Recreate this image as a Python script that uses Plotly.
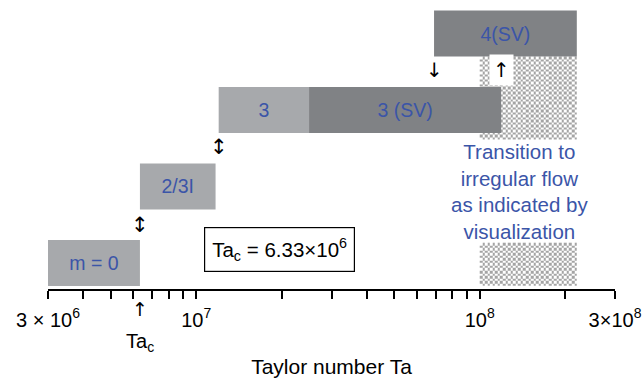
import numpy as np
import plotly.graph_objects as go

# ---- data ----
regime_labels = ["m = 0", "2/3I", "3", "3 (SV)", "4(SV)"]
regime_levels = [0, 1, 2, 2, 3]
regime_start = [3.0e6, 6.33e6, 1.2e7, 2.5e7, 6.9e7]
regime_end = [6.33e6, 1.17e7, 2.5e7, 1.19e8, 2.2e8]
regime_kind = ["light", "light", "light", "dark", "dark"]

ta_critical = 6.33e6
irregular_start = 1.0e8
irregular_end = 2.2e8

tick_values = [3e6, 1e7, 1e8, 3e8]
tick_labels = ["3 × 10<sup>6</sup>", "10<sup>7</sup>", "10<sup>8</sup>", "3×10<sup>8</sup>"]
minor_values = [4e6, 5e6, 6e6, 7e6, 8e6, 9e6,
                2e7, 3e7, 4e7, 5e7, 6e7, 7e7, 8e7, 9e7, 2e8]

# ---- styles ----
LIGHT = "#a7a9ac"
DARK = "#808285"
BLUE = "#3b55a8"
FONT = "Liberation Sans, Arial, sans-serif"
ARROW_FONT = "DejaVu Sans"
kind_color = {"light": LIGHT, "dark": DARK}

fig = go.Figure()

# checkered "irregular flow" region (two patches)
def checker(y0, y1, ny, nx=38):
    xe = np.logspace(np.log10(irregular_start), np.log10(irregular_end), nx + 1)
    ye = np.linspace(y0, y1, ny + 1)
    ii, jj = np.indices((ny, nx))
    z = ((ii + jj) % 2).astype(float)
    return go.Heatmap(x=xe, y=ye, z=z, showscale=False, hoverinfo="skip",
                      colorscale=[[0, "#ffffff"], [1, "#a4a4a4"]], zmin=0, zmax=1)

fig.add_trace(checker(1.61, 2.70, 33))
fig.add_trace(checker(-0.30, 0.265, 17))

widths = [e - s for s, e in zip(regime_start, regime_end)]
fig.add_trace(go.Bar(
    y=regime_levels, x=widths, base=regime_start, orientation="h",
    width=0.6,
    marker=dict(color=[kind_color[k] for k in regime_kind], line=dict(width=0)),
    text=regime_labels, textposition="inside", insidetextanchor="middle",
    constraintext="none",
    textfont=dict(color=BLUE, size=19.5, family=FONT),
    hoverinfo="skip", showlegend=False,
))

ann = []
def add_text(x, y, text, size=19, color="black", yref="y", family=FONT, **kw):
    ann.append(dict(x=np.log10(x), y=y, xref="x", yref=yref, text=text,
                    xanchor="center", yanchor="middle",
                    showarrow=False, font=dict(size=size, color=color, family=family), **kw))

add_text(ta_critical, 0.5, "↕", size=21, family=ARROW_FONT)
add_text(regime_start[2], 1.52, "↕", size=21, family=ARROW_FONT)
add_text(regime_start[4], 2.52, "↓", size=20, family=ARROW_FONT)
add_text(regime_end[3], 2.52, "↑", size=20, family=ARROW_FONT, bgcolor="white", borderpad=3)
add_text(ta_critical, -0.069, "↑", size=19, yref="paper", family=ARROW_FONT)
add_text(ta_critical, -0.185, "Ta<sub>c</sub>", size=20, yref="paper")
add_text(1.96e7, 0.17, "Ta<sub>c</sub> = 6.33×10<sup>6</sup>", size=20.5,
         bordercolor="black", borderwidth=1.2, borderpad=7, bgcolor="white")
add_text(1.39e8, 0.93, "Transition to<br>irregular flow<br>as indicated by<br>visualization",
         size=20.5, color=BLUE)

fig.update_layout(
    width=644, height=380,
    margin=dict(l=48, r=29, t=0, b=91, autoexpand=False),
    plot_bgcolor="white", paper_bgcolor="white",
    font=dict(family=FONT, size=18, color="black"),
    showlegend=False,
    annotations=ann,
    xaxis=dict(
        type="log", range=[np.log10(3e6), np.log10(3e8)],
        automargin=False,
        showline=True, linecolor="black", linewidth=1.5,
        ticks="outside", ticklen=8, tickwidth=1.5, tickcolor="black",
        tickvals=tick_values, ticktext=tick_labels,
        tickfont=dict(size=20, family=FONT),
        ticklabelstandoff=4,
        minor=dict(tickvals=minor_values, ticks="outside", ticklen=8,
                   tickwidth=1.5, tickcolor="black", showgrid=False),
        showgrid=False, zeroline=False,
        title=dict(text="Taylor number Ta", font=dict(size=21, family=FONT), standoff=30),
    ),
    yaxis=dict(visible=False, range=[-0.34, 3.438], fixedrange=True, automargin=False),
)

fig.write_html("out.html", config={"displayModeBar": False},
               post_script="document.body.style.margin='0';")
